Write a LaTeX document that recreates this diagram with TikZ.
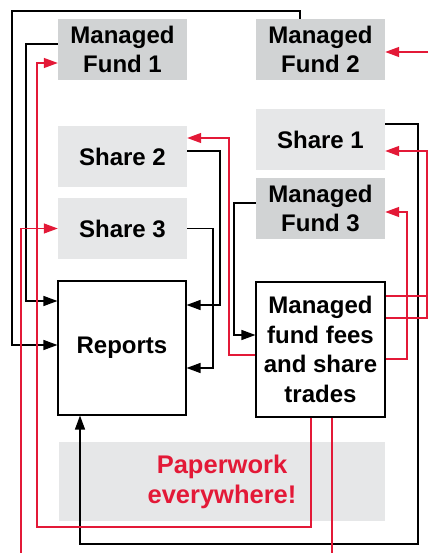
\documentclass[tikz,border=0pt]{standalone}
\usepackage{fontspec}
\setmainfont{Liberation Sans}
\usetikzlibrary{arrows.meta}
\definecolor{myred}{HTML}{E31937}
\definecolor{graydark}{HTML}{D1D3D4}
\definecolor{graylight}{HTML}{E6E7E8}
\begin{document}
\begin{tikzpicture}[x=1pt,y=-1pt,
  box/.style={minimum width=129pt, minimum height=61pt, inner sep=0pt, align=center,
    font=\fontsize{24}{28.5}\selectfont\bfseries},
  darkbox/.style={box, fill=graydark},
  lightbox/.style={box, fill=graylight},
  whitebox/.style={box, draw=black, line width=1.1pt, fill=white},
  blk/.style={line width=1.3pt, black},
  rd/.style={line width=1.3pt, myred},
  tip/.style={-{Triangle[length=14pt,width=10pt]}}
]
\useasboundingbox (0,0) rectangle (428,553);

% boxes
\node[darkbox] (mf1) at (122.5,49.5) {Managed\\Fund 1};
\node[darkbox] (mf2) at (320.5,49.5) {Managed\\Fund 2};
\node[lightbox] (share2) at (122.5,156.5) {Share 2};
\node[lightbox] (share1) at (320.5,139.5) {Share 1};
\node[darkbox] (mf3) at (320.5,208.5) {Managed\\Fund 3};
\node[lightbox] (share3) at (122.5,228.5) {Share 3};
\node[whitebox, minimum width=128pt, minimum height=134pt] (reports) at (122,348) {Reports};
\node[whitebox, minimum width=129pt, minimum height=135pt,
  font=\fontsize{24}{29.5}\selectfont\bfseries] (fees) at (320.5,349.5)
  {Managed\\fund fees\\and share\\trades};
\node[lightbox, minimum width=326pt, minimum height=79pt, text=myred,
  font=\fontsize{25.5}{30}\selectfont\bfseries] (paper) at (222,481.5) {Paperwork\\everywhere!};

% edge coordinates
\coordinate (r1s) at (428,52);
\coordinate (r3e) at (428,296);
\coordinate (r7e) at (332,553);
\coordinate (r8s) at (21,553);

% black connectors
\draw[blk,tip] ([xshift=-20.5pt]mf2.north) |- (12,11) |- ([yshift=3pt]reports.west);
\draw[blk,tip] ([yshift=5.5pt]mf1.west) -- (26,44) |- ([yshift=47pt]reports.west);
\draw[blk,tip] ([yshift=5.5pt]share2.east) -- (220,151) |- ([yshift=43pt]reports.east);
\draw[blk,tip] (share3.east) -- (213,228.5) |- ([yshift=-20pt]reports.east);
\draw[blk,tip] ([yshift=15.5pt]share1.east) -- (418,124) |- (80,544) -- ([xshift=-42pt]reports.south);
\draw[blk,tip] ([yshift=5.5pt]mf3.west) -- (234,203) |- ([yshift=14.5pt]fees.west);

% red connectors
\draw[rd,tip] (r1s) -- ([yshift=-2.5pt]mf2.east);
\draw[rd,tip] ([yshift=31.5pt]fees.east) -- (427,318) |- ([yshift=-11.5pt]share1.east);
\draw[rd] ([yshift=53.5pt]fees.east) -- (r3e);
\draw[rd,tip] ([yshift=-9.5pt]fees.east) -- (407,359) |- ([yshift=-3.5pt]mf3.east);
\draw[rd,tip] ([yshift=-5.5pt]fees.west) -- (229,355) |- ([yshift=18.5pt]share2.east);
\draw[rd,tip] ([xshift=-9.5pt]fees.south) |- (37,527) |- ([yshift=-13.5pt]mf1.west);
\draw[rd] ([xshift=11.5pt]fees.south) -- (r7e);
\draw[rd,tip] (r8s) |- (share3.west);
\end{tikzpicture}
\end{document}
